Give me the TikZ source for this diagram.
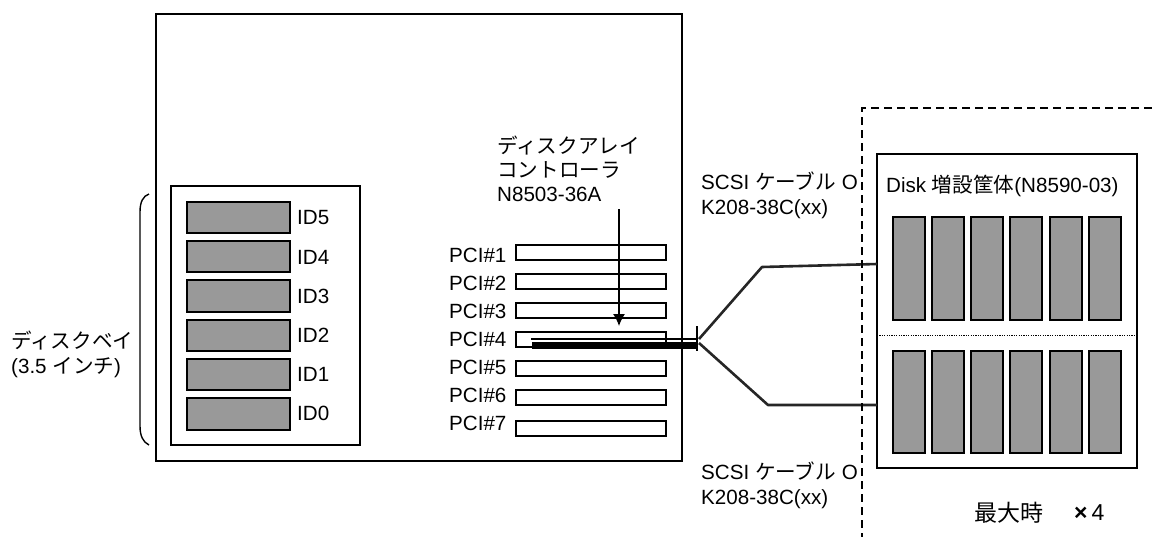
\documentclass[tikz,border=0pt]{standalone}
\usepackage{fontspec}
\usetikzlibrary{arrows.meta}
\setmainfont{Liberation Sans}
\newfontfamily\cjk{Noto Sans CJK JP}
\newcommand{\J}[1]{{\cjk #1}}
\definecolor{diskgray}{HTML}{999999}
\tikzset{
  box/.style={draw=black,line width=1.8pt,fill=white},
  disk/.style={draw=black,line width=2pt,fill=diskgray},
  slot/.style={draw=black,line width=1.8pt,fill=white},
  cable/.style={draw=black!85,line width=2.6pt,line join=round},
  lbl/.style={font=\fontsize{20.6}{25}\selectfont,inner sep=0pt,anchor=west,align=left},
}
\newcommand{\rectnode}[6]{\node[#1,outer sep=0pt,minimum width=#4pt-#2pt,minimum height=#5pt-#3pt,inner sep=0pt,anchor=north west] (#6) at (#2,#3) {};}
\begin{document}
\begin{tikzpicture}[x=1pt,y=-1pt]
\useasboundingbox (0,0) rectangle (1152,542);
\rectnode{box}{156}{14}{682}{461}{main}
\rectnode{box}{171}{186}{360}{445}{bay}
\foreach \n/\a/\b/\t in {5/202/233/218,4/241/272/257,3/280/312/296.5,2/320/351/335,1/359/390/374,0/398/430/413.5}{
  \rectnode{disk}{187}{\a}{290}{\b}{d\n}
  \node[lbl] (id\n) at (297,\t) {ID\n};
}
\foreach \n/\a/\b/\t in {1/245/260/255,2/274/289/283,3/303/318/311,4/332/347/339,5/361/376/367,6/390/405/395,7/421/436/423.5}{
  \rectnode{slot}{516}{\a}{666}{\b}{s\n}
  \node[lbl] (p\n) at (449,\t) {PCI\#\n};
}
\node[lbl,font=\fontsize{20.6}{24}\selectfont] (ctrl) at (497,169) {\J{ディスクアレイ}\\\J{コントローラ}\\N8503-36A};
\node[lbl] (bayl) at (11,354) {\J{ディスクベイ}\\(3.5 \J{インチ})};
\coordinate (ah) at (619,209);
\coordinate (at) at (619,326);
\draw[line width=1.4pt,-{Latex[length=12pt,width=12pt]}] (ah) -- (at);
% connector
\coordinate (c0) at (531,339);
\coordinate (c1) at (697,339);
\coordinate (t0) at (532,345.5);
\coordinate (t1) at (697,345.5);
\draw[line width=1.4pt] (c0) -- (c1);
\draw[line width=6.4pt] (t0) -- (t1);
\draw[line width=1.6pt] (697,326) -- (697,351);
\rectnode{box}{877}{154}{1137}{468}{encl}
\coordinate (k1) at (762,267);
\coordinate (k2) at (768,405);
\coordinate (e1) at (699,339);
\coordinate (e2) at (699,343);
\draw[cable] (e1) -- (k1) -- (encl.west |- 0,264);
\draw[cable] (e2) -- (k2) -- (encl.west |- 0,405);
\draw[black,line width=2pt,dash pattern=on 8pt off 5pt] (1152,108) -- (862,108) -- (862,537);
\foreach \i/\a/\b in {1/893/925,2/932/964,3/971/1003,4/1010/1042,5/1050/1082,6/1089/1121}{
  \rectnode{disk}{\a}{217}{\b}{320}{u\i}
  \rectnode{disk}{\a}{351}{\b}{453}{l\i}
}
\draw[line width=1pt,dash pattern=on 1.2pt off 1.2pt] (877,335.5) -- (1135,335.5);
\node[lbl] (cap) at (886,186) {Disk \J{増設筐体}(N8590-03)};
\node[lbl] (sc1) at (701,195) {SCSI \J{ケーブル} O\\K208-38C(xx)};
\node[lbl] (sc2) at (701,485) {SCSI \J{ケーブル} O\\K208-38C(xx)};
\node[lbl,font=\fontsize{23}{25}\selectfont] (maxl) at (974,513) {\J{最大時}};
\node[lbl,font=\fontsize{23}{25}\selectfont] (x4) at (1074,513) {\textbf{×}\hspace{4pt}4};
% brace
\draw[line width=1.4pt] (149,194) .. controls (143,196) and (140,202) .. (140,212) -- (140,426) .. controls (140,436) and (143,442) .. (149,445);
\end{tikzpicture}
\end{document}
